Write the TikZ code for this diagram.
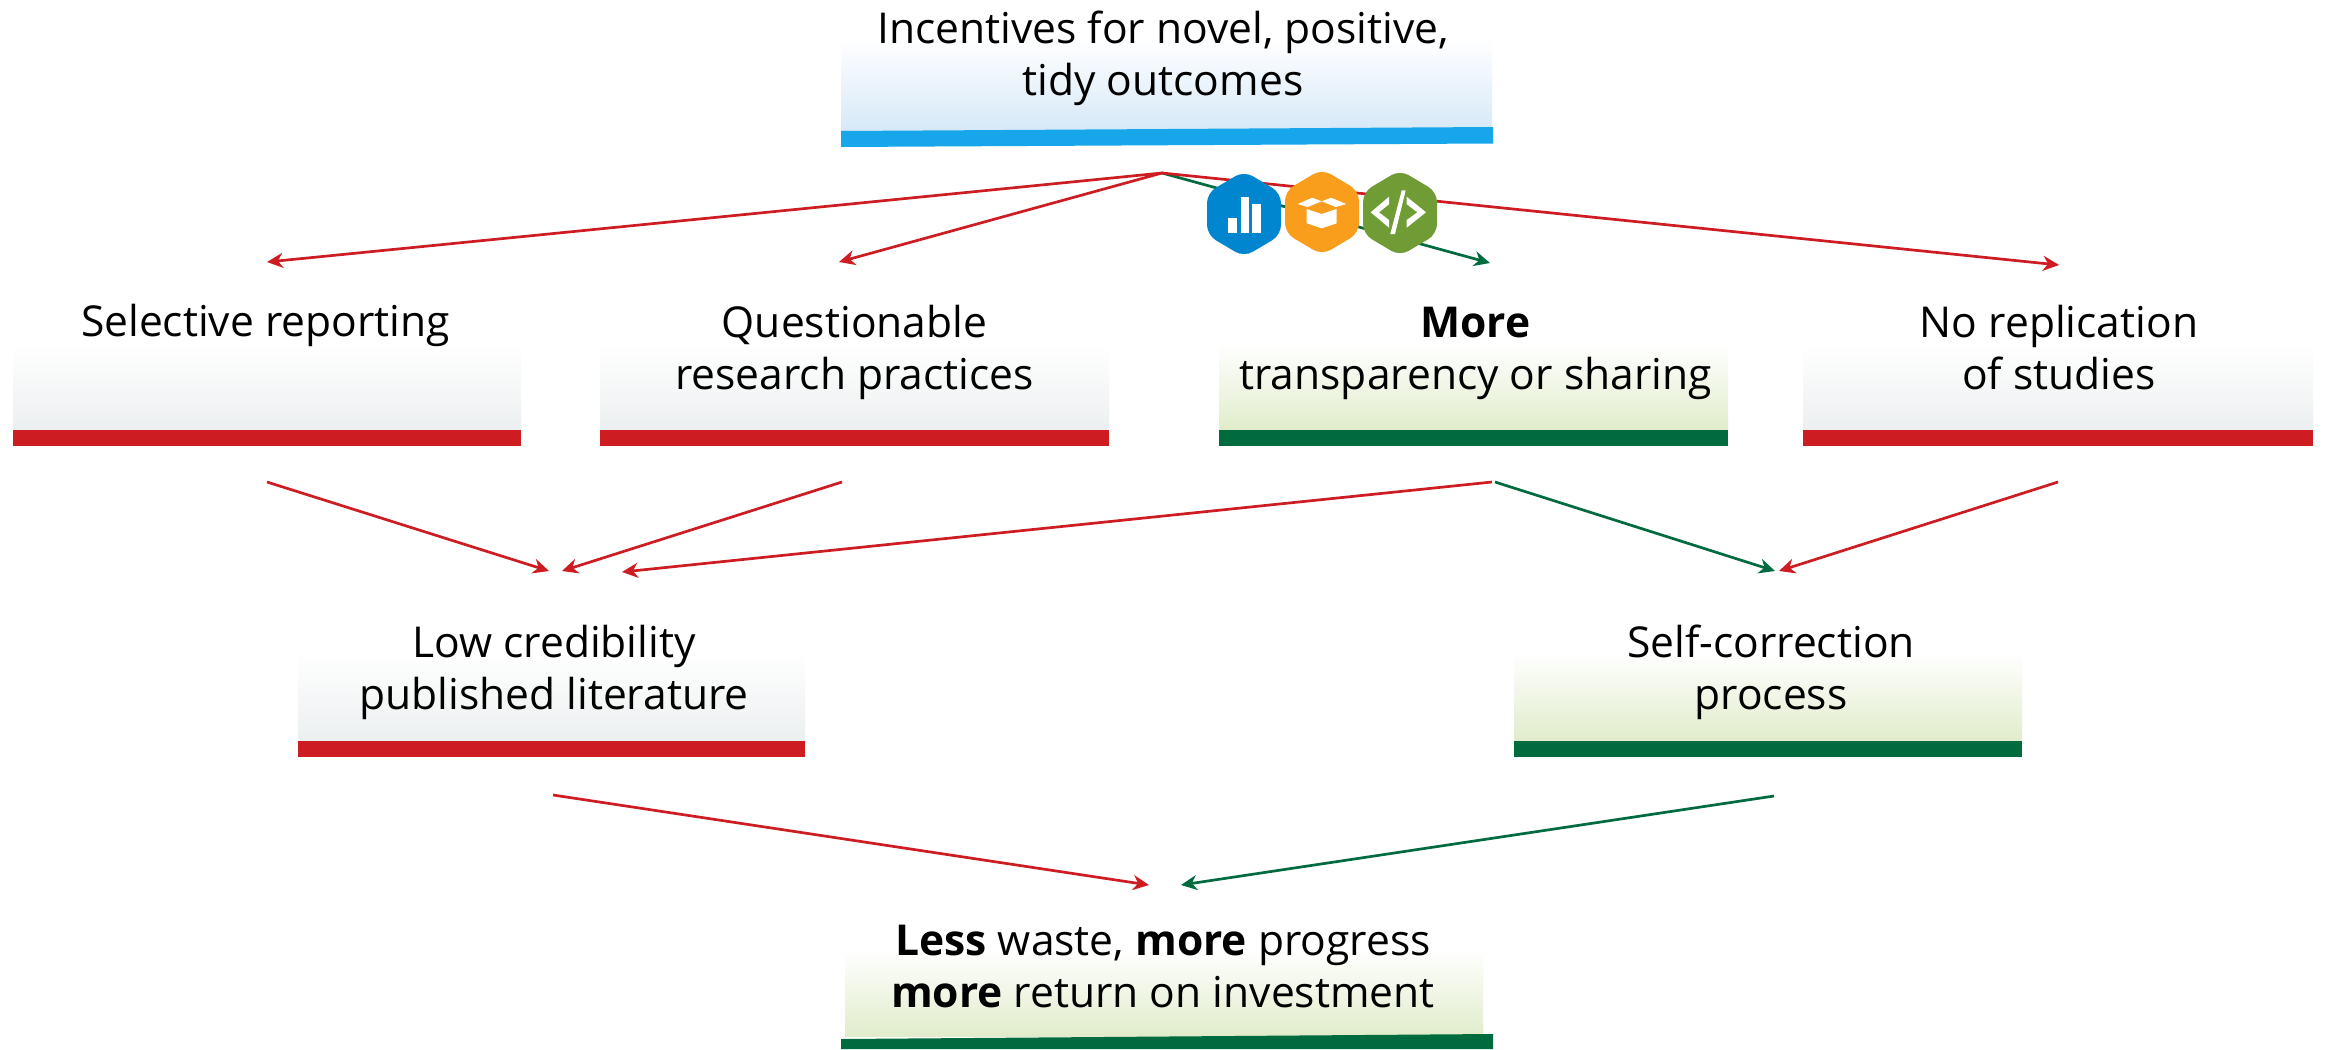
\documentclass[tikz,border=0pt]{standalone}
\usepackage{fontspec}
\setmainfont{Open Sans}
\usetikzlibrary{arrows.meta}
\definecolor{cred}{HTML}{CD1C22}
\definecolor{cgreen}{HTML}{006B3F}
\definecolor{cblue}{HTML}{18A6EA}
\definecolor{gblue}{HTML}{D6E8F8}
\definecolor{ggray}{HTML}{ECEFF0}
\definecolor{ggreen}{HTML}{E1ECCB}
\definecolor{icblue}{HTML}{0085CF}
\definecolor{icorange}{HTML}{F99D1C}
\definecolor{icgreen}{HTML}{6F9C35}
\tikzset{
  lbl/.style={inner sep=0pt,align=center,font=\fontsize{42.7}{52}\selectfont,text=black},
  redarrow/.style={draw=cred,line width=2.7pt,-{Stealth[length=16pt,width=15pt,inset=5pt]}},
  greenarrow/.style={draw=cgreen,line width=2.7pt,-{Stealth[length=16pt,width=15pt,inset=5pt]}},
  hexicon/.style={rounded corners=10pt},
}
\newcommand{\gbox}[7]{% x1 y1 x2 y2 ybar gradcolor barcolor
  \shade[top color=white,bottom color=#6] (#1,#2) rectangle (#3,#4);
  \fill[#7] (#1,#4) rectangle (#3,#5);
}
\newcommand{\hexag}[3]{%
  \fill[#3,hexicon] (#1,#2-43) -- (#1+37,#2-21) -- (#1+37,#2+21) -- (#1,#2+43) -- (#1-37,#2+21) -- (#1-37,#2-21) -- cycle;
}
\begin{document}
\begin{tikzpicture}[x=1bp,y=-1bp]
\useasboundingbox (0,0) rectangle (2325,1049);
\fill[white] (0,0) rectangle (2325,1049);
% boxes
\shade[top color=white,bottom color=gblue] (841,40) rectangle (1492,131);
\fill[cblue] (841,131) -- (1493,127) -- (1493,143.5) -- (841,147) -- cycle;
\gbox{13}{344}{521}{430}{446}{ggray}{cred}
\gbox{600}{344}{1109}{430}{446}{ggray}{cred}
\gbox{1219}{344}{1728}{430}{446}{ggreen}{cgreen}
\gbox{1803}{344}{2313}{430}{446}{ggray}{cred}
\gbox{298}{652}{805}{741}{757}{ggray}{cred}
\gbox{1514}{652}{2022}{741}{757}{ggreen}{cgreen}
\shade[top color=white,bottom color=ggreen] (845,950) rectangle (1483,1036);
\fill[cgreen] (841,1039) -- (1493,1034) -- (1493,1049) -- (841,1049) -- cycle;
% labels
\node[lbl] (incent) at (1163,59.5) {\strut Incentives for novel, positive,\\\strut tidy outcomes};
\node[lbl] (select) at (265.5,326.4) {\strut Selective reporting};
\node[lbl] (quest) at (854.5,352.8) {\strut Questionable\\\strut research practices};
\node[lbl] (more) at (1475.5,352.8) {\strut\textbf{More}\\\strut transparency or sharing};
\node[lbl] (norep) at (2059,352.8) {\strut No replication\\\strut of studies};
\node[lbl] (lowcred) at (554,673) {\strut Low credibility\\\strut published literature};
\node[lbl] (selfc) at (1771,673) {\strut Self-correction\\\strut process};
\node[lbl] (less) at (1163,971) {\strut\textbf{Less} waste, \textbf{more} progress\\\strut\textbf{more} return on investment};
% connector ends
\coordinate (apex) at (1162,173);
\coordinate (a1) at (267,262);
\coordinate (a2) at (839,262);
\coordinate (a3) at (1490,263);
\coordinate (a4) at (2059,265);
\coordinate (s1) at (267,482);
\coordinate (s2) at (842,482);
\coordinate (s3r) at (1492,482);
\coordinate (s3g) at (1495,482);
\coordinate (s4) at (2058,482);
\coordinate (l1) at (549,571);
\coordinate (l2) at (562,571);
\coordinate (l3) at (622,572);
\coordinate (r1) at (1775,571);
\coordinate (r2) at (1779,571);
\coordinate (d1) at (553,795);
\coordinate (d2) at (1774,796);
\coordinate (e1) at (1149,885);
\coordinate (e2) at (1181,885);
% connectors
\draw[greenarrow] (apex) -- (a3);
\draw[redarrow] (apex) -- (a1);
\draw[redarrow] (apex) -- (a2);
\draw[redarrow] (apex) -- (a4);
\draw[redarrow] (s1) -- (l1);
\draw[redarrow] (s2) -- (l2);
\draw[redarrow] (s3r) -- (l3);
\draw[greenarrow] (s3g) -- (r1);
\draw[redarrow] (s4) -- (r2);
\draw[redarrow] (d1) -- (e1);
\draw[greenarrow] (d2) -- (e2);
% icons
\hexag{1244}{214}{icblue}
\hexag{1322}{212}{icorange}
\hexag{1400}{213}{icgreen}
\fill[white] (1228.3,218.3) rectangle (1237.3,232.7);
\fill[white] (1240.7,196.7) rectangle (1249.3,232.7);
\fill[white] (1251.7,204) rectangle (1260.7,232.7);
\fill[white] (1297.7,204) -- (1312.3,197.7) -- (1321.7,201.3) -- (1307.7,207) -- cycle;
\fill[white] (1346.3,204) -- (1331,197.7) -- (1321.7,201.3) -- (1335.7,207) -- cycle;
\fill[white] (1306.7,209) -- (1321.7,214) -- (1336.7,209) -- (1336.7,223.3) -- (1321.7,228.3) -- (1306.7,223.3) -- cycle;
\fill[white] (1389,196.7) -- (1370.7,212.3) -- (1389,227.7) -- (1389,220) -- (1379,212.3) -- (1389,204.3) -- cycle;
\fill[white] (1406.7,196.7) -- (1426,212.3) -- (1406.7,227.7) -- (1406.7,220) -- (1417.3,212.3) -- (1406.7,204.3) -- cycle;
\fill[white] (1401.7,190.3) -- (1405.7,190.3) -- (1395,234) -- (1390.3,234) -- cycle;
\end{tikzpicture}
\end{document}
